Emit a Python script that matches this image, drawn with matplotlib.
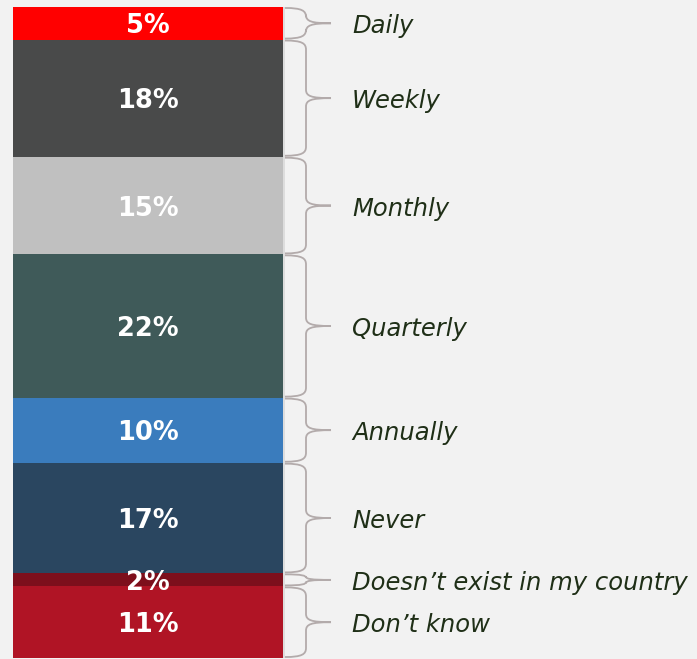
import numpy as np
import matplotlib
matplotlib.use('Agg')
import matplotlib.pyplot as plt
from matplotlib.path import Path
from matplotlib.patches import PathPatch

categories = ['Daily', 'Weekly', 'Monthly', 'Quarterly', 'Annually', 'Never',
              'Doesn\u2019t exist in my country', 'Don\u2019t know']
values = [5, 18, 15, 22, 10, 17, 2, 11]
colors = ['#FF0000', '#494A4A', '#C0C0C0', '#3F5A59', '#3A7CBD', '#2A4660',
          '#7D0F1C', '#B01425']

W, H = 697, 659
fig = plt.figure(figsize=(W / 100, H / 100), dpi=100)
fig.patch.set_facecolor('#F2F2F2')
ax = fig.add_axes([0, 0, 1, 1])
ax.set_facecolor('#F2F2F2')
# x in pixels, y in percent (0 at top of the bar)
scale = 6.51
top_px = 7
ax.set_xlim(0, W)
ax.set_ylim((H - top_px) / scale, -top_px / scale)
ax.axis('off')

bar_x, bar_w = 148, 270
bottoms = np.concatenate([[0], np.cumsum(values)[:-1]])

# faint shadow on the right of the bar
ax.bar(bar_x + 2, sum(values), bottom=0, width=bar_w, color='#DDDDDD', zorder=1)
ax.bar(bar_x, values, bottom=bottoms, width=bar_w, color=colors, zorder=2)

dy = 3 / scale  # text sits a little below the centre
for v, b in zip(values, bottoms):
    ax.text(bar_x, b + v / 2 + dy, f'{v}%', ha='center', va='center', color='white',
            fontsize=18.5, fontweight='bold', zorder=3)


def brace(a, b, x0=285, x1=306, x2=331, r=7.0):
    rp = min(r / scale, (b - a) / 4)
    m = (a + b) / 2
    verts = [(x0, a), (x1 - 4, a), (x1, a + rp * 0.4), (x1, a + rp * 1.3),
             (x1, m - rp * 1.2),
             (x1, m - rp * 0.3), (x1 + 5, m), (x2, m),
             (x1 + 5, m), (x1, m + rp * 0.3), (x1, m + rp * 1.2),
             (x1, b - rp * 1.3),
             (x1, b - rp * 0.4), (x1 - 4, b), (x0, b)]
    codes = [Path.MOVETO, Path.CURVE4, Path.CURVE4, Path.CURVE4,
             Path.LINETO,
             Path.CURVE4, Path.CURVE4, Path.CURVE4,
             Path.CURVE4, Path.CURVE4, Path.CURVE4,
             Path.LINETO,
             Path.CURVE4, Path.CURVE4, Path.CURVE4]
    ax.add_patch(PathPatch(Path(verts, codes), fill=False, edgecolor='#B3ABAB',
                           lw=1.3, zorder=2))


for cat, v, b in zip(categories, values, bottoms):
    brace(b + 0.15, b + v - 0.15)
    ax.text(352, b + v / 2 + dy, cat, ha='left', va='center', color='#1F2F17',
            fontsize=17.5, fontstyle='italic')

fig.savefig('out.png', dpi=100, facecolor=fig.get_facecolor())
